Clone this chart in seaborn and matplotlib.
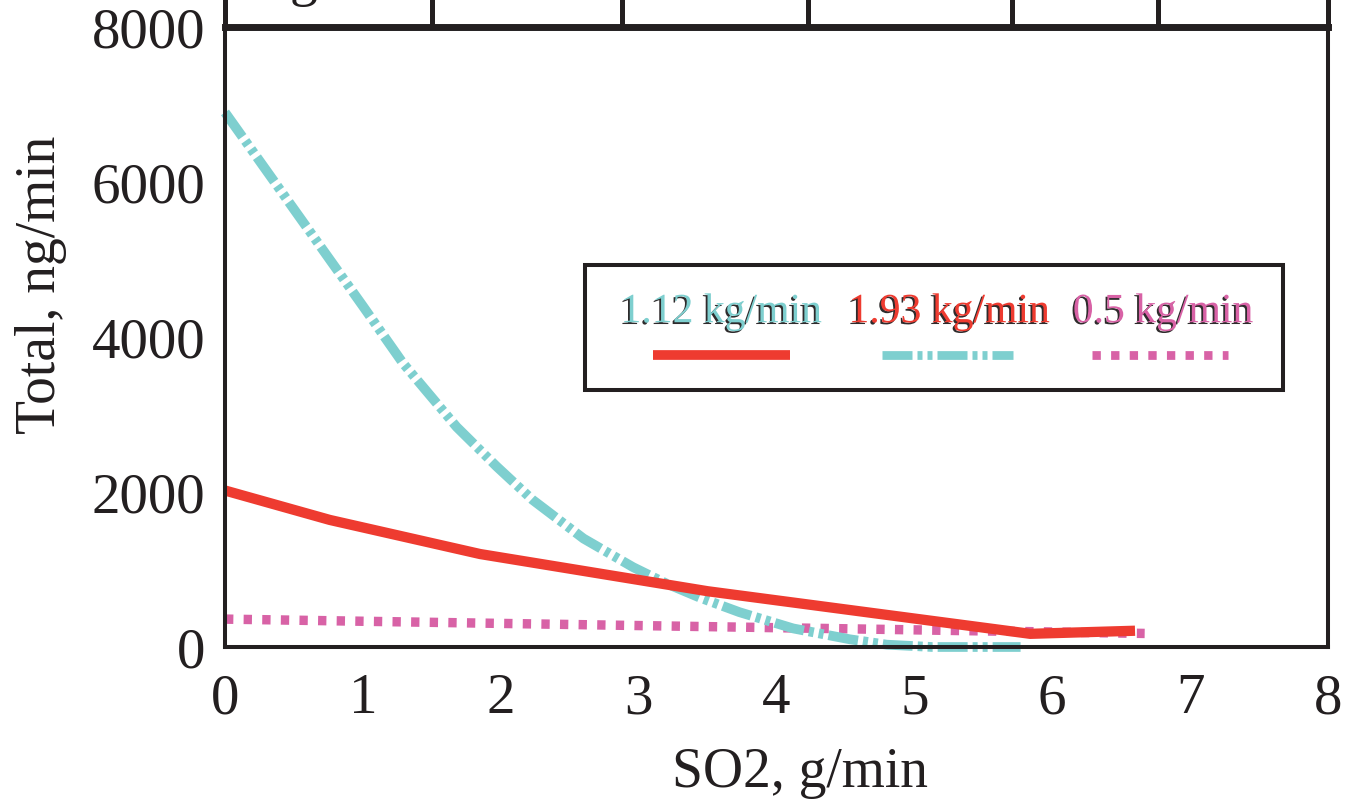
import matplotlib
matplotlib.use("Agg")
import matplotlib.pyplot as plt
import matplotlib.patheffects as pe
from matplotlib.patches import Rectangle
from matplotlib.lines import Line2D
import matplotlib.transforms as mtransforms
import seaborn as sns
import pandas as pd

# ---- data -------------------------------------------------------------
so2_112 = [0, 0.5, 1.0, 1.29, 1.68, 1.97, 2.23, 2.6, 2.96, 3.2, 3.44,
           3.73, 4.12, 4.53, 4.8, 5.13, 5.77]
total_112 = [6900, 5650, 4400, 3665, 2840, 2330, 1900, 1400, 1030, 820, 640,
             450, 240, 100, 30, 0, 0]

so2_193 = [0, 0.76, 1.85, 3.5, 5.84, 6.6]
total_193 = [2020, 1640, 1200, 720, 170, 210]

so2_05 = [0, 6.67]
total_05 = [360, 175]

legend_labels = ["1.12 kg/min", "1.93 kg/min", "0.5 kg/min"]
x_ticks = [0, 1, 2, 3, 4, 5, 6, 7, 8]
y_ticks = [0, 2000, 4000, 6000, 8000]
header_cols = [0, 1.50, 2.88, 4.23, 5.71, 6.77, 8]
header_text = "g"

# ---- style ------------------------------------------------------------
sns.set_theme(style="white")
plt.rcParams["font.family"] = ["Liberation Serif", "DejaVu Serif"]
plt.rcParams["lines.scale_dashes"] = False

CYAN = "#7ECFCF"
RED = "#EE3B30"
PINK = "#D862A6"
INK = "#231F20"

fig = plt.figure(figsize=(13.45, 8), dpi=100)
ax = fig.add_axes([0.1673, 0.19125, 0.8201, 0.77475])

cyan_dash = [21.6, 3.6, 3.6, 3.6, 3.6, 3.6]
pink_dash = [6.0, 7.4]

df_112 = pd.DataFrame({"so2": so2_112, "total": total_112})
df_193 = pd.DataFrame({"so2": so2_193, "total": total_193})
df_05 = pd.DataFrame({"so2": so2_05, "total": total_05})

sns.lineplot(data=df_05, x="so2", y="total", ax=ax, color=PINK, linewidth=6.8)
ax.lines[-1].set_dashes(pink_dash)
sns.lineplot(data=df_112, x="so2", y="total", ax=ax, color=CYAN, linewidth=7.0)
ax.lines[-1].set_dashes(cyan_dash)
sns.lineplot(data=df_193, x="so2", y="total", ax=ax, color=RED, linewidth=7.4,
             solid_capstyle="butt")
for ln in ax.lines:
    ln.set_clip_on(False)
    ln.set_solid_joinstyle("round")
    ln.set_dash_joinstyle("round")

ax.set_xlim(0, 8)
ax.set_ylim(0, 8000)
ax.set_xticks(x_ticks)
ax.set_yticks(y_ticks)
ax.set_xticklabels([str(t) for t in x_ticks])
ax.set_yticklabels([str(t) for t in y_ticks])
ax.tick_params(axis="both", length=0, labelsize=41, colors=INK)
ax.tick_params(axis="x", pad=19)
ax.tick_params(axis="y", pad=14)

ax.set_xlabel("SO2, g/min", fontsize=40, color=INK)
ax.set_ylabel("Total, ng/min", fontsize=40, color=INK)
ax.xaxis.set_label_coords(0.521, -0.162)
ax.yaxis.set_label_coords(-0.143, 0.585)

for side in ["left", "right", "bottom"]:
    ax.spines[side].set_color(INK)
    ax.spines[side].set_linewidth(2.9)
ax.spines["top"].set_color(INK)
ax.spines["top"].set_linewidth(5.0)

# ---- header table row above the plot ----------------------------------
blend = mtransforms.blended_transform_factory(ax.transData, ax.transAxes)
ax.vlines(header_cols, 1.0, 1.08, transform=blend, colors=INK,
          linewidth=3.6, clip_on=False)
ax.text(0.57, 1.052, header_text, transform=blend, fontsize=40, color=INK,
        ha="center", va="baseline", clip_on=False)

# ---- legend box --------------------------------------------------------
box = Rectangle((0.3264, 0.4145), 0.6326, 0.2015, transform=ax.transAxes,
                facecolor="white", edgecolor=INK, linewidth=2.9, zorder=5)
ax.add_patch(box)

text_cols = [CYAN, RED, PINK]
text_x = [0.4497, 0.6564, 0.8504]
shadow = [pe.withSimplePatchShadow(offset=(-1.3, -1.3), shadow_rgbFace=INK,
                                   alpha=0.95)]
for lbl, col, tx in zip(legend_labels, text_cols, text_x):
    ax.text(tx, 0.524, lbl, transform=ax.transAxes, fontsize=30, color=col,
            ha="center", va="baseline", zorder=6, path_effects=shadow)

key_specs = [
    ((0.388, 0.5122), RED, 7.0, None),
    ((0.5956, 0.7144), CYAN, 6.3, cyan_dash),
    ((0.786, 0.909), PINK, 6.3, pink_dash),
]
for (x0, x1), col, lw, dash in key_specs:
    key = Line2D([x0, x1], [0.471, 0.471], transform=ax.transAxes, color=col,
                 linewidth=lw, solid_capstyle="butt", dash_capstyle="butt",
                 zorder=6)
    if dash is not None:
        key.set_dashes(dash)
    ax.add_line(key)

fig.savefig("out.png", dpi=100, facecolor="white")
